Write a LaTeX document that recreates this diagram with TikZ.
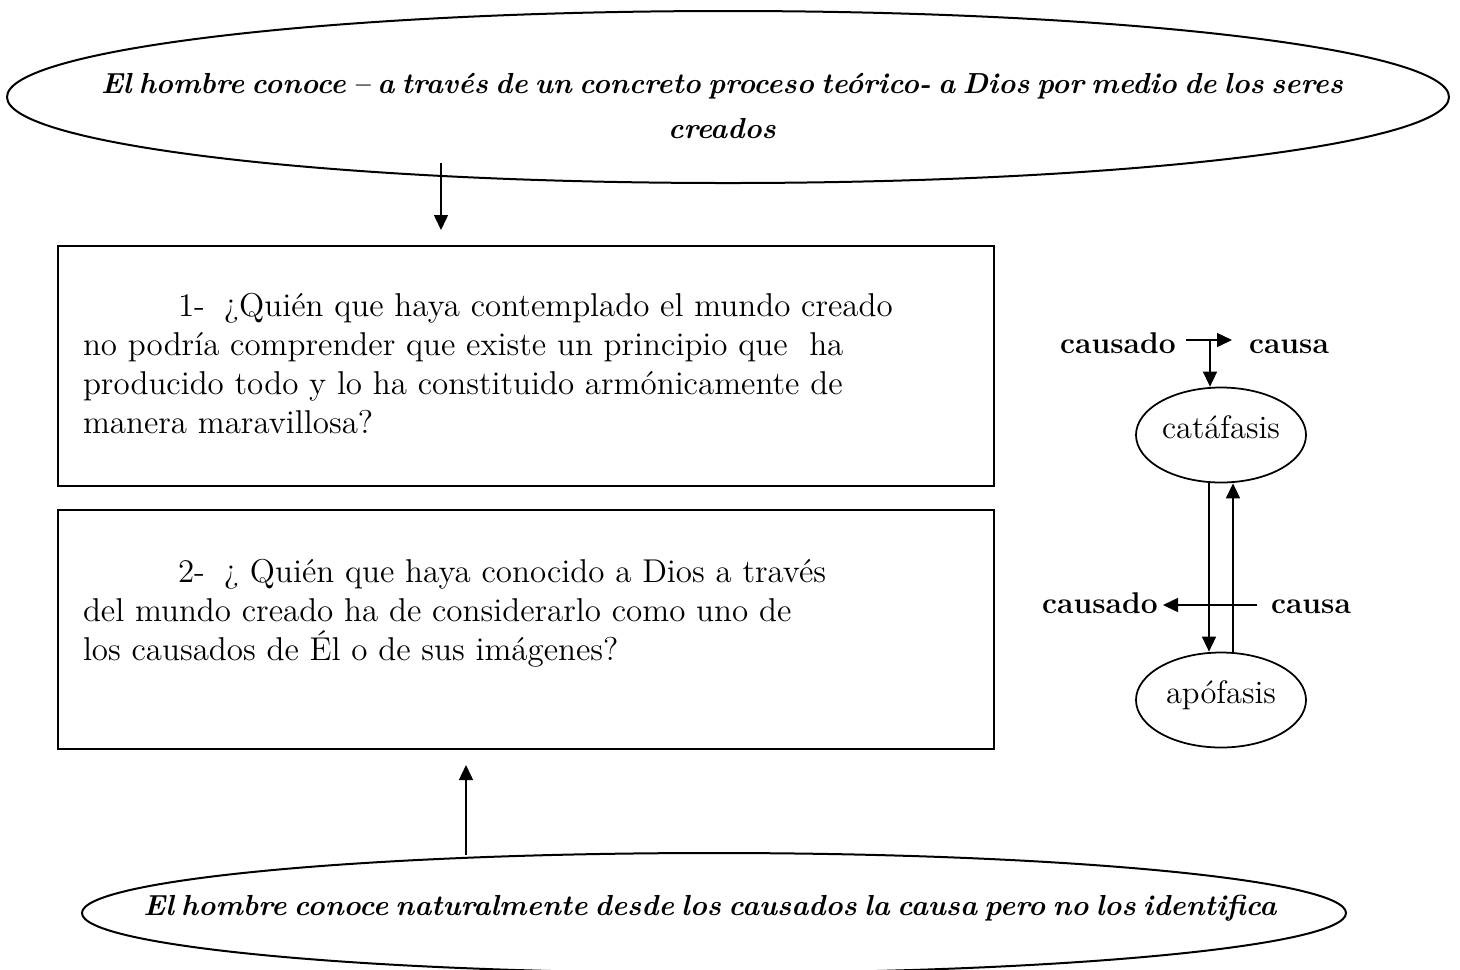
\documentclass[tikz,border=0pt]{standalone}
\usetikzlibrary{arrows.meta,shapes.geometric}
\newcommand\ellsp{\spaceskip=2.9pt plus 1pt minus 0.5pt\relax}
\begin{document}
\begin{tikzpicture}[x=0.4pt,y=-0.4pt,
  arr/.style={line width=0.6pt,-{Triangle[length=6pt,width=5.6pt]}},
  boxst/.style={draw,line width=0.8pt,inner sep=0pt,anchor=north west},
  bigell/.style={draw,ellipse,line width=0.8pt,inner sep=0pt,font=\fontsize{11.6}{18}\selectfont\bfseries\itshape},
  smell/.style={draw,ellipse,line width=0.7pt,inner sep=0pt,minimum width=68pt,minimum height=38pt,font=\fontsize{13}{15}\selectfont,text height=8pt,text depth=5pt},
  lab/.style={inner sep=0pt,anchor=base,font=\fontsize{12}{14}\selectfont\bfseries}]
\useasboundingbox (0,0) rectangle (1460,969);
% top ellipse
\node[bigell,minimum width=576.8pt,minimum height=68.8pt,text height=12.6pt,text depth=15.8pt] (e1) at (728,97)
 {\makebox[0pt]{\begin{tabular}[t]{@{}c@{}}\ellsp El hombre conoce -- a través de un concreto proceso teórico- a Dios por medio de los seres\\ \ellsp creados\end{tabular}\hspace{4.8pt}}};
% bottom ellipse
\node[bigell,minimum width=505.6pt,minimum height=48pt,text height=8pt,text depth=6.4pt] (e2) at (714,913)
 {\makebox[0pt]{\ellsp El hombre conoce naturalmente desde los causados la causa pero no los identifica\hspace{3.2pt}}};
% boxes
\node[boxst] (b1) at (57,245) {\parbox[t][96pt][t]{374.4pt}{\fontsize{13.2}{15.6}\selectfont\raggedright\leftskip=10pt\relax
 \rule{0pt}{28pt}\hspace*{38pt}\mbox{\makebox[18.4pt][l]{1-}¿Quién que haya contemplado el mundo creado}\\
 \mbox{no podría comprender que existe un principio que\ \ ha}\\
 \mbox{producido todo y lo ha constituido armónicamente de}\\
 \mbox{manera maravillosa?}}};
\node[boxst] (b2) at (57,509) {\parbox[t][95.6pt][t]{374.4pt}{\fontsize{13.2}{15.6}\selectfont\raggedright\leftskip=10pt\relax
 \rule{0pt}{29pt}\hspace*{38pt}\mbox{\makebox[18.4pt][l]{2-}¿ Quién que haya conocido a Dios a través}\\
 \mbox{del mundo creado ha de considerarlo como uno de}\\
 \mbox{los causados de Él o de sus imágenes?}}};
% main arrows
\coordinate (a1) at (441,163);
\draw[arr,shorten >=6pt] (a1) -- (a1 |- b1.north);
\coordinate (a2) at (466,855);
\draw[arr,shorten >=6pt] (a2) -- (a2 |- b2.south);
% right diagram
\node[smell] (cat) at (1221,435) {\makebox[0pt]{catáfasis}};
\node[smell] (apo) at (1221,700) {\makebox[0pt]{apófasis}};
\node[lab] (c1) at (1118,353) {causado};
\node[lab] (c2) at (1289,353) {causa};
\node[lab] (c3) at (1100,613) {causado};
\node[lab] (c4) at (1311,613) {causa};
\coordinate (h1) at (1186,340);
\coordinate (h2) at (1232,340);
\draw[arr] (h1) -- (h2);
\coordinate (v1) at (1210,340);
\draw[arr] (v1) -- (v1 |- cat.north);
\draw[arr] ([xshift=-4.8pt]cat.south) -- ([xshift=-4.8pt]apo.north);
\draw[arr] ([xshift=4.8pt]apo.north) -- ([xshift=4.8pt]cat.south);
\coordinate (m1) at (1257,605);
\coordinate (m2) at (1163,605);
\draw[arr] (m1) -- (m2);
\end{tikzpicture}
\end{document}
